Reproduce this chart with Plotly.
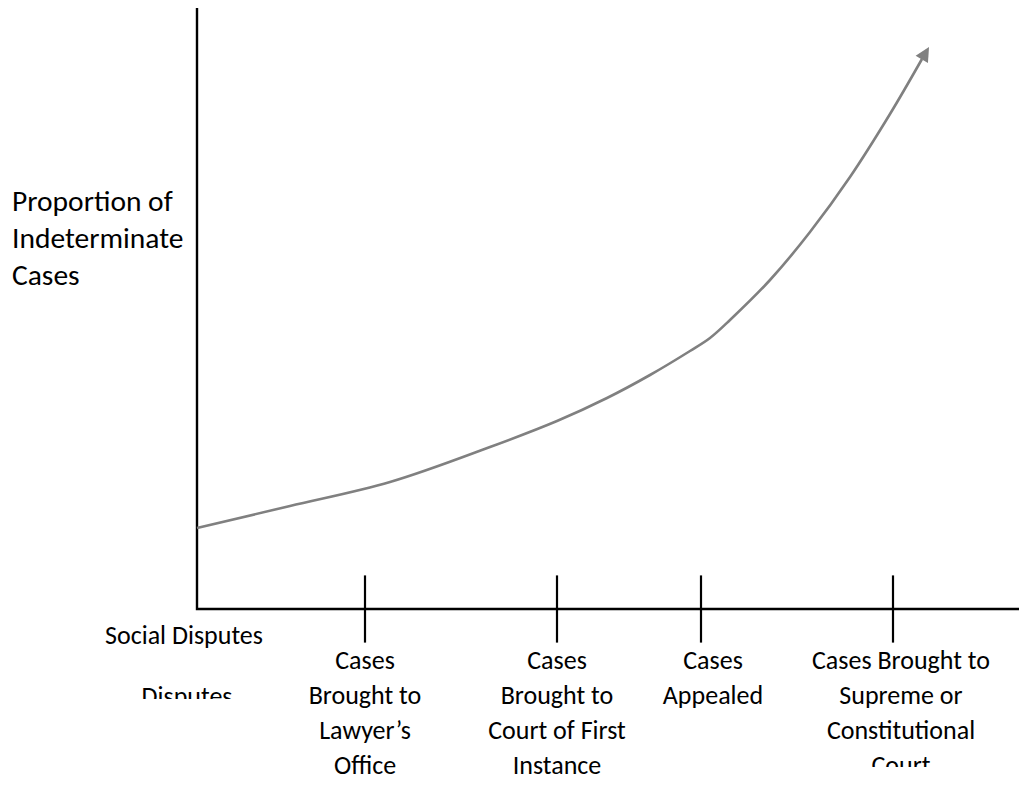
import plotly.graph_objects as go

# ---- data (diagram units: x along the litigation path, y = proportion) ----
curve_x = [0, 93, 193, 293, 360, 410, 453, 493, 513, 533, 573, 613, 653, 693, 725]
curve_y = [81, 103, 127, 162, 188, 211, 234, 258, 271, 289, 329, 377, 432, 495, 550]
arrow_tip = (732, 562)

axis_top = 601
axis_right = 830

tick_positions = [168, 360, 504, 696]

stage_labels = [
    ["Social Disputes"],
    ["Cases", "Brought to", "Lawyer\u2019s", "Office"],
    ["Cases", "Brought to", "Court of First", "Instance"],
    ["Cases", "Appealed"],
    ["Cases Brought to", "Supreme or", "Constitutional", "Court"],
]
stage_label_x = [-13, 168, 360, 516, 704]
ghost_label = "Disputes"
ghost_label_x = -10

y_title_lines = ["Proportion of", "Indeterminate", "Cases"]

FONT = "Carlito, Calibri, Lato, sans-serif"
FS = 26
FS_TITLE = 29.5
GAP = 35

fig = go.Figure()

# axes lines
fig.add_trace(go.Scatter(x=[0, 0, axis_right], y=[axis_top, 0, 0], mode="lines",
                         line=dict(color="black", width=2.4), hoverinfo="skip"))
# tick marks crossing the axis
fig.add_trace(go.Scatter(x=tick_positions, y=[0] * len(tick_positions), mode="markers",
                         marker=dict(symbol="line-ns", size=48,
                                     line=dict(width=2.2, color="black")),
                         hoverinfo="skip"))
# curve
fig.add_trace(go.Scatter(x=curve_x, y=curve_y, mode="lines",
                         line=dict(color="#808080", width=2.6, shape="spline", smoothing=1.0),
                         hoverinfo="skip"))

fig.add_annotation(x=arrow_tip[0], y=arrow_tip[1], ax=curve_x[-1], ay=curve_y[-1],
                   xref="x", yref="y", axref="x", ayref="y", text="",
                   showarrow=True, arrowhead=2, arrowsize=1.1, arrowwidth=2.6,
                   arrowcolor="#808080", standoff=0, startstandoff=0)

# stage labels
first_line_y = -53  # below the axis
social_y = -28
for i, (lines, lx) in enumerate(zip(stage_labels, stage_label_x)):
    if i == 0:
        ys = [social_y]
    else:
        ys = [first_line_y - GAP * k for k in range(len(lines))]
    sub = "2" if i == len(stage_labels) - 1 else ""
    fig.add_trace(go.Scatter(x=[lx] * len(lines), y=ys, text=lines, mode="text",
                             textposition="middle center",
                             textfont=dict(family=FONT, size=FS, color="black"),
                             cliponaxis=True, hoverinfo="skip",
                             xaxis="x" + sub, yaxis="y" + sub))

# partially hidden label
fig.add_trace(go.Scatter(x=[ghost_label_x], y=[-89], text=[ghost_label],
                         mode="text", textposition="middle center",
                         textfont=dict(family=FONT, size=FS, color="black"),
                         cliponaxis=True, hoverinfo="skip", xaxis="x3", yaxis="y3"))

# y title
fig.add_trace(go.Scatter(x=[-185] * 3, y=[405 - 37 * k for k in range(3)], text=y_title_lines,
                         mode="text", textposition="middle right",
                         textfont=dict(family=FONT, size=FS_TITLE, color="black"),
                         cliponaxis=False, hoverinfo="skip"))

W, H = 1027, 785
OFF = 8  # page body margin
xr = [-197 + OFF, 830 + OFF]
top = 609 - OFF


def clip_axis(clip_px):
    fy = clip_px - OFF
    return dict(range=[609 - clip_px, top], visible=False,
                domain=[(H - fy) / H, 1])


fig.update_layout(
    width=W, height=H, margin=dict(l=0, r=0, t=0, b=0),
    paper_bgcolor="white", plot_bgcolor="rgba(0,0,0,0)", showlegend=False,
    xaxis=dict(range=xr, visible=False, domain=[0, 1]),
    yaxis=dict(range=[top - H, top], visible=False, domain=[0, 1]),
    xaxis2=dict(range=xr, visible=False, domain=[0, 1], anchor="y2"),
    yaxis2=dict(**clip_axis(767), anchor="x2"),
    xaxis3=dict(range=xr, visible=False, domain=[0, 1], anchor="y3"),
    yaxis3=dict(**clip_axis(699), anchor="x3"),
)

fig.write_html("out.html")
